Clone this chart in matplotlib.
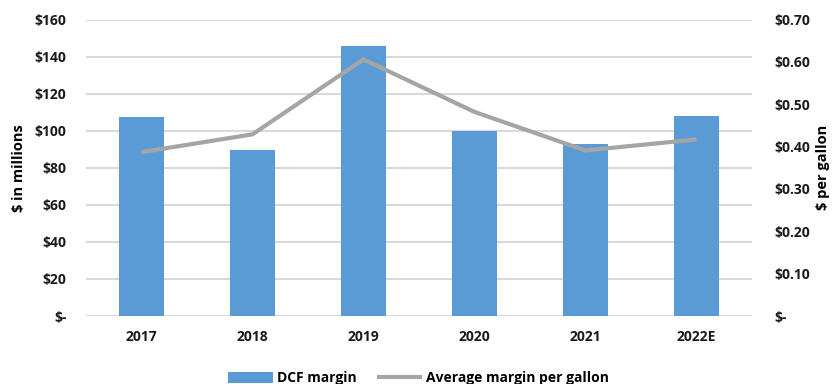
import matplotlib.pyplot as plt
from matplotlib.ticker import FuncFormatter, MultipleLocator

plt.rcParams['font.family'] = ['Open Sans', 'DejaVu Sans']
plt.rcParams['font.weight'] = 'bold'

# annual DCF margin and per-gallon margin
years = ['2017', '2018', '2019', '2020', '2021', '2022E']
dcf_margin = [107.6, 89.4, 145.7, 99.8, 92.8, 107.9]          # $ millions
margin_per_gallon = [0.387, 0.429, 0.606, 0.482, 0.391, 0.417]  # $ per gallon

bar_color = '#5B9BD5'
line_color = '#A5A5A5'
grid_color = '#D9D9D9'

fig = plt.figure(figsize=(8.37, 3.84), dpi=100)
ax = fig.add_axes([0.1027, 0.177, 0.7957, 0.772])
ax2 = ax.twinx()

x = range(len(years))
bars = ax.bar(x, dcf_margin, width=0.4, color=bar_color, zorder=2, label='DCF margin')
line, = ax2.plot(x, margin_per_gallon, color=line_color, lw=3, zorder=3,
                 solid_capstyle='butt', label='Average margin per gallon')

ax.set_xlim(-0.5, len(years) - 0.5)
ax.set_ylim(0, 160)
ax2.set_ylim(0, 0.70)
ax.yaxis.set_major_locator(MultipleLocator(20))
ax2.yaxis.set_major_locator(MultipleLocator(0.1))
ax.yaxis.set_major_formatter(FuncFormatter(lambda v, p: '$-' if v == 0 else f'${v:.0f}'))
ax2.yaxis.set_major_formatter(FuncFormatter(lambda v, p: '$-' if abs(v) < 1e-9 else f'${v:.2f}'))

ax.set_xticks(list(x))
ax.set_xticklabels(years)
ax.grid(axis='y', color=grid_color, lw=1.5, zorder=0)
ax.set_axisbelow(True)
for a in (ax, ax2):
    for s in a.spines.values():
        s.set_visible(False)
    a.tick_params(length=0, labelsize=10, colors='#1a1a1a')
ax.tick_params(axis='y', pad=14)
ax.tick_params(axis='x', pad=10)
ax2.tick_params(axis='y', pad=16)

ax.set_ylabel('$ in millions', fontsize=10.5, fontweight='bold', labelpad=6)
ax2.set_ylabel('$ per gallon', fontsize=10.5, fontweight='bold', labelpad=4)

fig.legend([bars, line], ['DCF margin', 'Average margin per gallon'],
           loc='center', bbox_to_anchor=(0.5, 0.015), ncol=2, frameon=False,
           fontsize=10, handlelength=3.2, handleheight=0.8, columnspacing=1.5,
           handletextpad=0.3)

fig.savefig('out.png', dpi=100)
